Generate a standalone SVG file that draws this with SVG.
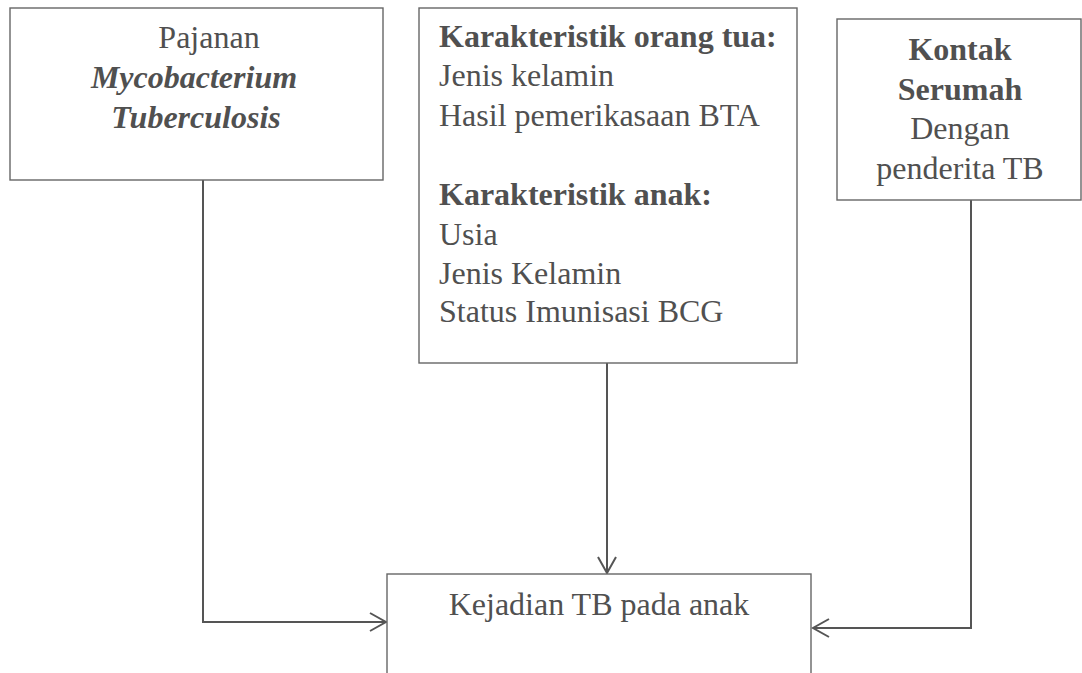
<svg xmlns="http://www.w3.org/2000/svg" width="1082" height="673" viewBox="0 0 1082 673">
<style>
.box{fill:#fff;stroke:#666;stroke-width:1.4}
.t{font-family:"Liberation Serif","Times New Roman",serif;font-size:32px;fill:#505050}
.b{font-weight:bold}
.i{font-style:italic;font-weight:bold}
.c{stroke:#555;stroke-width:2;fill:none}
</style>
<defs>
<marker id="arr" viewBox="0 0 20 20" refX="18" refY="10" markerWidth="20" markerHeight="20" markerUnits="userSpaceOnUse" orient="auto">
<path d="M2,1 L18,10 L2,19" fill="none" stroke="#555" stroke-width="2"/>
</marker>
</defs>
<rect width="1082" height="673" fill="#fff"/>
<g id="connectors">
<path class="c" d="M203,180 V622 H386" marker-end="url(#arr)"/>
<path class="c" d="M607,363 V573" marker-end="url(#arr)"/>
<path class="c" d="M971,200 V628 H813" marker-end="url(#arr)"/>
</g>
<g id="pajanan">
<rect class="box" x="10" y="8" width="373" height="172"/>
<text class="t" x="209" y="48" text-anchor="middle">Pajanan</text>
<text class="t i" x="194" y="88" text-anchor="middle">Mycobacterium</text>
<text class="t i" x="196" y="128" text-anchor="middle">Tuberculosis</text>
</g>
<g id="karakteristik">
<rect class="box" x="419" y="8" width="378" height="355"/>
<text class="t b" x="439" y="47">Karakteristik orang tua:</text>
<text class="t" x="439" y="86">Jenis kelamin</text>
<text class="t" x="439" y="126">Hasil pemerikasaan BTA</text>
<text class="t b" x="439" y="205">Karakteristik anak:</text>
<text class="t" x="439" y="245">Usia</text>
<text class="t" x="439" y="284">Jenis Kelamin</text>
<text class="t" x="439" y="322">Status Imunisasi BCG</text>
</g>
<g id="kontak">
<rect class="box" x="837" y="19" width="244" height="181"/>
<text class="t b" x="960" y="60" text-anchor="middle">Kontak</text>
<text class="t b" x="960" y="100" text-anchor="middle">Serumah</text>
<text class="t" x="960" y="139" text-anchor="middle">Dengan</text>
<text class="t" x="960" y="179" text-anchor="middle">penderita TB</text>
</g>
<g id="kejadian">
<rect class="box" x="387" y="574" width="424" height="110"/>
<text class="t" x="599" y="615" text-anchor="middle">Kejadian TB pada anak</text>
</g>
</svg>
